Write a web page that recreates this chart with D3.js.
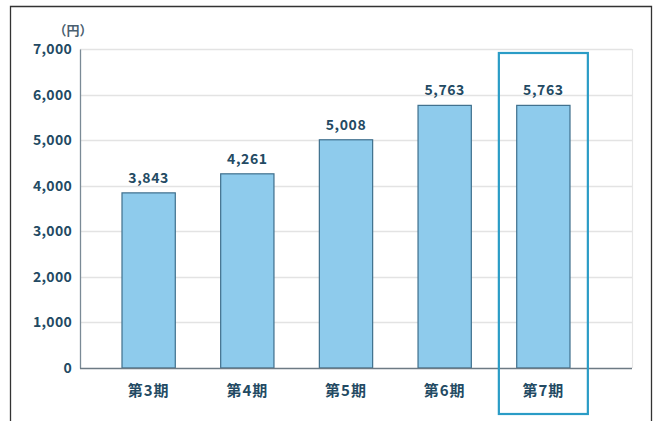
<!DOCTYPE html>
<html><head><meta charset="utf-8">
<script src="https://cdn.jsdelivr.net/npm/d3@7"></script>
<style>body{margin:0;background:#fff}svg{display:block}</style>
</head><body><svg id="c" width="659" height="421"></svg>
<script>
const categories = ["第3期","第4期","第5期","第6期","第7期"];
const values = [3843, 4261, 5008, 5763, 5763];
const valueLabels = ["3,843","4,261","5,008","5,763","5,763"];
const yTicks = [0,1000,2000,3000,4000,5000,6000,7000];
const unitLabel = "（円）";
const highlightIndex = 4;

const svg = d3.select("#c");
const font = "'Noto Sans CJK JP','Noto Sans',sans-serif";
const textColor = "#234a63";

// outer frame
svg.append("path").attr("d","M10.5,430 V6.5 H651.5 V430")
  .attr("fill","none").attr("stroke","#333").attr("stroke-width",1.3);

const x0 = 80, x1 = 632;
const y = d3.scaleLinear().domain([0,7000]).range([368,49]);
const x = d3.scaleBand().domain(categories).range([122,570]).paddingInner(0.46).paddingOuter(0);

// gridlines
svg.append("g").selectAll("line").data(yTicks.filter(d=>d>0)).join("line")
  .attr("x1",x0).attr("x2",x1).attr("y1",d=>Math.round(y(d))+0.5).attr("y2",d=>Math.round(y(d))+0.5)
  .attr("stroke","#e3e3e3").attr("stroke-width",1.5);
svg.append("line").attr("x1",x1+0.5).attr("x2",x1+0.5).attr("y1",y(7000)).attr("y2",y(0))
  .attr("stroke","#e6e6e6").attr("stroke-width",1.2);

// y axis
const yAxis = d3.axisLeft(y).tickValues(yTicks).tickSize(0).tickPadding(8)
  .tickFormat(d3.format(","));
const gy = svg.append("g").attr("transform",`translate(${x0},0)`).call(yAxis);
gy.select(".domain").attr("stroke","#7a8a96").attr("stroke-width",1.3);
gy.selectAll("text").attr("font-family",font).attr("font-size",14).attr("font-weight","bold")
  .attr("fill",textColor).attr("letter-spacing",0.3);

// bars
svg.append("g").selectAll("rect").data(values).join("rect")
  .attr("x",(d,i)=>x(categories[i])).attr("width",x.bandwidth())
  .attr("y",d=>y(d)).attr("height",d=>y(0)-y(d))
  .attr("fill","#8ecbec").attr("stroke","#3e6f8c").attr("stroke-width",1.2);

// baseline
svg.append("line").attr("x1",x0).attr("x2",x1).attr("y1",y(0)+0.5).attr("y2",y(0)+0.5)
  .attr("stroke","#6d7a84").attr("stroke-width",1.5);

// value labels
svg.append("g").selectAll("text").data(values).join("text")
  .attr("x",(d,i)=>x(categories[i])+x.bandwidth()/2).attr("y",d=>y(d)-10)
  .attr("text-anchor","middle").attr("font-family",font).attr("font-size",14).attr("font-weight","bold")
  .attr("letter-spacing",0.6)
  .attr("fill",textColor).text((d,i)=>valueLabels[i]);

// x axis labels
const xAxis = d3.axisBottom(x).tickSize(0).tickPadding(17);
const gx = svg.append("g").attr("transform",`translate(0,${y(0)})`).call(xAxis);
gx.select(".domain").remove();
gx.selectAll("text").attr("font-family",font).attr("font-size",15).attr("font-weight","bold")
  .attr("letter-spacing",1).attr("fill",textColor);

// unit label
svg.append("text").attr("x",73).attr("y",35).attr("text-anchor","middle")
  .attr("font-family",font).attr("font-size",13).attr("font-weight","bold").attr("fill","#4a5f70").text(unitLabel);

// highlight box
const hc = x(categories[highlightIndex]) + x.bandwidth()/2;
svg.append("rect").attr("x",hc-44.5).attr("y",53).attr("width",89).attr("height",361)
  .attr("fill","none").attr("stroke","#2a9cc6").attr("stroke-width",2.2);
</script></body></html>
